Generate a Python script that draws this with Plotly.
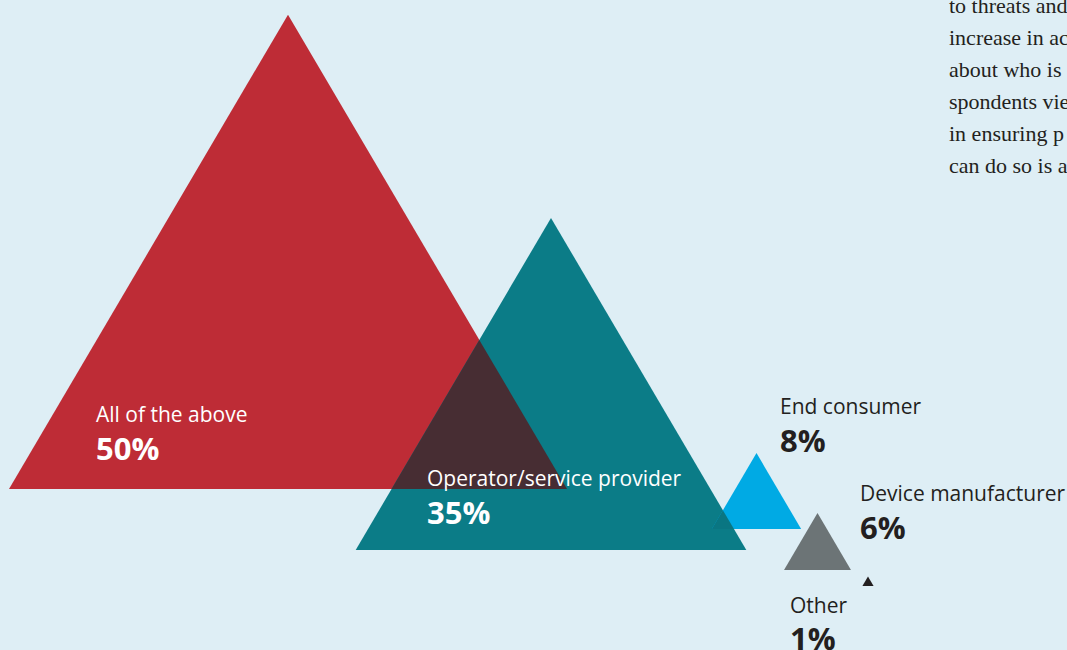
import plotly.graph_objects as go

# Survey answers: who is responsible for security
categories = ["All of the above", "Operator/service provider", "End consumer",
              "Device manufacturer", "Other"]
values = [50, 35, 8, 6, 1]
value_labels = [f"{v}%" for v in values]

colors = ["#be2c36", "#0b7c87", "#00aae4", "#6c7476", "#231f20"]
overlap_colors = {(0, 1): "#472d33", (1, 2): "#0a7682"}

# Placement of each triangle: centre of base (x) and baseline (y), in pixels
base_cx = [288, 551, 756.5, 817.5, 868]
base_y = [489, 550, 529, 570, 586]
px_per_point = 11.16   # base width per percentage point
height_ratio = 0.85    # triangle height / base width

# Label placement: left edge x, name centre y, value centre y, text colour
label_pos = [
    (94, 414, 448, "white"),
    (425, 478, 512, "white"),
    (778, 406, 440, "#231f20"),
    (858, 493, 527, "#231f20"),
    (788, 605, 638, "#231f20"),
]

BG = "#deeef5"
W, H = 1067, 650


def triangle(i):
    w = values[i] * px_per_point
    h = w * height_ratio
    cx, by = base_cx[i], base_y[i]
    return [(cx - w / 2, by), (cx, by - h), (cx + w / 2, by)]


def clip(subject, clipper):
    """Sutherland-Hodgman clipping of a convex polygon against another."""
    def area2(poly):
        return sum(poly[k][0] * poly[(k + 1) % len(poly)][1]
                   - poly[(k + 1) % len(poly)][0] * poly[k][1]
                   for k in range(len(poly)))
    sign = 1 if area2(clipper) > 0 else -1

    def inside(p, a, b):
        return sign * ((b[0] - a[0]) * (p[1] - a[1]) - (b[1] - a[1]) * (p[0] - a[0])) >= 0

    def inter(p, q, a, b):
        x1, y1 = p; x2, y2 = q; x3, y3 = a; x4, y4 = b
        d = (x1 - x2) * (y3 - y4) - (y1 - y2) * (x3 - x4)
        t = ((x1 - x3) * (y3 - y4) - (y1 - y3) * (x3 - x4)) / d
        return (x1 + t * (x2 - x1), y1 + t * (y2 - y1))

    out = subject
    for k in range(len(clipper)):
        a, b = clipper[k], clipper[(k + 1) % len(clipper)]
        inp, out = out, []
        if not inp:
            break
        s = inp[-1]
        for e in inp:
            if inside(e, a, b):
                if not inside(s, a, b):
                    out.append(inter(s, e, a, b))
                out.append(e)
            elif inside(s, a, b):
                out.append(inter(s, e, a, b))
            s = e
    return out


fig = go.Figure()

tris = [triangle(i) for i in range(len(values))]
for i, tri in enumerate(tris):
    xs = [p[0] for p in tri] + [tri[0][0]]
    ys = [p[1] for p in tri] + [tri[0][1]]
    fig.add_trace(go.Scatter(x=xs, y=ys, mode="lines", fill="toself",
                             fillcolor=colors[i], line=dict(width=0),
                             hoverinfo="skip", showlegend=False))

for (a, b), col in overlap_colors.items():
    poly = clip(tris[a], tris[b])
    if poly:
        xs = [p[0] for p in poly] + [poly[0][0]]
        ys = [p[1] for p in poly] + [poly[0][1]]
        fig.add_trace(go.Scatter(x=xs, y=ys, mode="lines", fill="toself",
                                 fillcolor=col, line=dict(width=0),
                                 hoverinfo="skip", showlegend=False))

for i, name in enumerate(categories):
    lx, ny, vy, col = label_pos[i]
    fig.add_annotation(x=lx, y=ny, text=name, showarrow=False,
                       xanchor="left", yanchor="middle",
                       font=dict(family="Open Sans", size=21, color=col))
    fig.add_annotation(x=lx, y=vy, text=f"<b>{value_labels[i]}</b>", showarrow=False,
                       xanchor="left", yanchor="middle",
                       font=dict(family="Open Sans", size=31, color=col, weight=800))

# Body copy running off the right edge of the page
body_lines = ["to threats and", "increase in ac", "about who is",
              "spondents vie", "in ensuring p", "can do so is a"]
for k, line in enumerate(body_lines):
    fig.add_annotation(x=947, y=5 + 32 * k, text=line, showarrow=False,
                       xanchor="left", yanchor="middle",
                       font=dict(family="Liberation Serif", size=22, color="#231f20"))

fig.update_xaxes(range=[0, W], visible=False, fixedrange=True)
fig.update_yaxes(range=[H, 0], visible=False, fixedrange=True)
fig.update_layout(width=W, height=H, margin=dict(l=0, r=0, t=0, b=0),
                  paper_bgcolor=BG, plot_bgcolor=BG)

fig.write_html("out.html", config={"displayModeBar": False})
